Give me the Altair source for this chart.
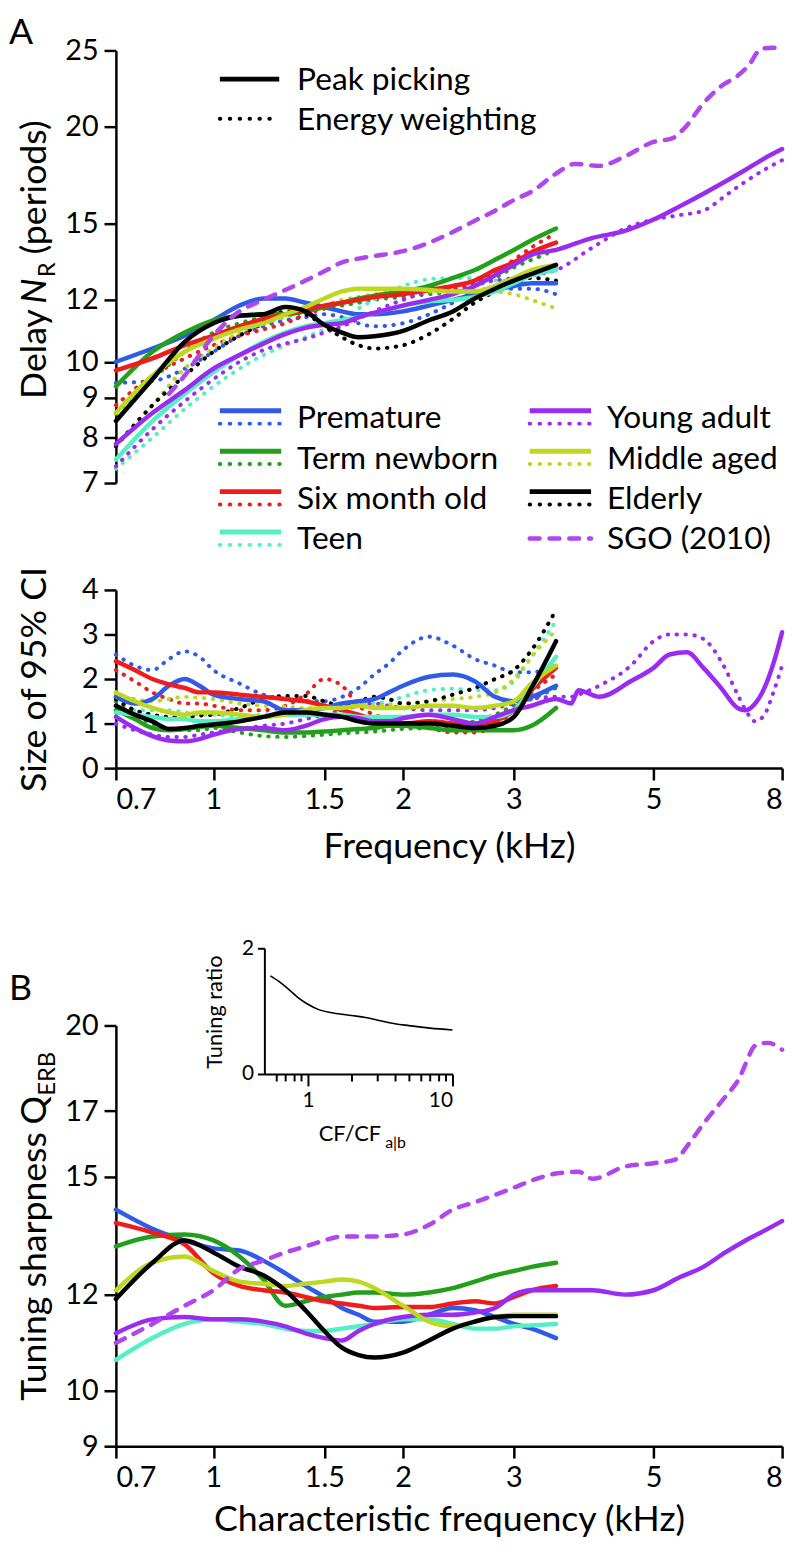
import altair as alt
import pandas as pd

FONT = "Lato"
GROUPS = ["Premature", "Term newborn", "Six month old", "Teen",
          "Young adult", "Middle aged", "Elderly", "SGO (2010)"]
COLORS = ["#2f5be8", "#22a01c", "#f01c1c", "#55efc4",
          "#9a2cf2", "#bdd81e", "#000000", "#b046ee"]
METHOD_LABELS = ["Peak picking", "Energy weighting"]

# ---------------- frequencies (kHz) ----------------
FREQ = [0.7, 0.8, 0.9, 1.0, 1.1, 1.2, 1.3, 1.4, 1.5, 1.6, 1.7, 1.8, 2.0, 2.2, 2.4, 2.6, 2.8, 3.0, 3.2, 3.5]
FREQ_HI = [4.0, 4.5, 5.0, 5.5, 6.0, 6.5, 7.0, 7.5, 8.0]

# ---------------- Delay N_R, peak picking ----------------
PREM_D_PK = [10.0, 10.4, 10.8, 11.3, 11.8, 12.05, 12.05, 11.9, 11.75, 11.6, 11.5, 11.5, 11.6, 11.8, 12.0, 12.2, 12.35, 12.5, 12.6, 12.6]
TERM_D_PK = [9.3, 10.3, 10.9, 11.3, 11.45, 11.5, 11.5, 11.6, 11.75, 11.9, 12.05, 12.15, 12.3, 12.5, 12.8, 13.1, 13.5, 13.9, 14.3, 14.8]
SIX_D_PK = [9.75, 10.1, 10.5, 10.8, 11.1, 11.35, 11.5, 11.65, 11.8, 11.9, 12.0, 12.1, 12.2, 12.35, 12.5, 12.7, 13.1, 13.4, 13.8, 14.2]
TEEN_D_PK = [7.5, 8.4, 9.1, 9.7, 10.2, 10.6, 10.9, 11.1, 11.2, 11.3, 11.4, 11.55, 11.8, 11.95, 12.0, 12.1, 12.3, 12.6, 12.9, 13.1]
YA_D_PK = [7.85, 8.6, 9.2, 9.8, 10.2, 10.55, 10.85, 11.05, 11.15, 11.2, 11.4, 11.55, 11.8, 12.0, 12.2, 12.5, 12.9, 13.3, 13.7, 13.9]
YA_D_PK_HI = [14.4, 14.7, 15.2, 15.8, 16.4, 17.0, 17.6, 18.2, 18.7]
MID_D_PK = [8.6, 9.6, 10.3, 10.7, 11.0, 11.2, 11.5, 11.75, 12.05, 12.3, 12.4, 12.4, 12.4, 12.35, 12.3, 12.3, 12.5, 12.8, 13.1, 13.3]
ELD_D_PK = [8.4, 9.5, 10.6, 11.2, 11.45, 11.5, 11.75, 11.6, 11.15, 10.9, 10.75, 10.78, 10.95, 11.3, 11.6, 12.05, 12.4, 12.7, 12.95, 13.3]

# ---------------- Delay N_R, energy weighting ----------------
PREM_D_EW = [9.4, 9.45, 9.8, 10.3, 10.8, 11.1, 11.3, 11.4, 11.5, 11.4, 11.2, 11.1, 11.2, 11.5, 11.9, 12.3, 12.4, 12.4, 12.4, 12.2]
TERM_D_EW = [8.6, 9.5, 10.3, 10.9, 11.2, 11.4, 11.5, 11.6, 11.7, 11.8, 11.9, 12.0, 12.1, 12.2, 12.3, 12.5, 12.8, 13.2, 13.5, 13.9]
SIX_D_EW = [8.8, 9.6, 10.1, 10.5, 10.8, 11.0, 11.2, 11.5, 11.7, 11.9, 12.0, 12.1, 12.2, 12.3, 12.4, 12.6, 13.0, 13.5, 14.0, 14.6]
TEEN_D_EW = [7.3, 8.0, 8.7, 9.3, 9.8, 10.2, 10.5, 10.75, 11.0, 11.3, 11.7, 12.0, 12.5, 12.75, 12.8, 12.8, 12.7, 12.7, 12.9, 13.2]
YA_D_EW = [7.35, 8.2, 8.9, 9.5, 10.0, 10.35, 10.55, 10.7, 10.9, 11.1, 11.35, 11.6, 12.0, 12.3, 12.5, 12.6, 12.7, 12.8, 12.9, 13.1]
YA_D_EW_HI = [14.0, 14.8, 15.2, 15.4, 15.6, 16.3, 17.0, 17.6, 18.1]
MID_D_EW = [7.8, 8.8, 9.8, 10.4, 10.9, 11.2, 11.4, 11.6, 11.8, 12.0, 12.1, 12.2, 12.3, 12.3, 12.3, 12.35, 12.3, 12.2, 12.0, 11.7]
ELD_D_EW = [7.8, 8.8, 9.6, 10.3, 10.8, 11.2, 11.6, 11.5, 11.1, 10.75, 10.5, 10.4, 10.5, 10.85, 11.35, 11.9, 12.3, 12.6, 12.8, 12.7]

# SGO (2010) delay
SGO_D_FREQ = [0.85, 0.9, 1.0, 1.1, 1.2, 1.3, 1.4, 1.5, 1.6, 1.7, 1.8, 2.0, 2.2, 2.4, 2.6, 2.8, 3.0, 3.2, 3.5, 3.75, 4.1, 4.5, 5.0, 5.35, 5.6, 6.0, 6.4, 6.8, 7.1, 7.4, 7.7, 8.0]
SGO_D = [9.1, 9.6, 10.8, 11.6, 12.0, 12.35, 12.7, 13.05, 13.4, 13.55, 13.65, 13.85, 14.2, 14.65, 15.15, 15.6, 16.1, 16.5, 17.4, 17.9, 17.8, 18.3, 19.1, 19.3, 19.9, 21.4, 22.5, 23.2, 24.0, 25.1, 25.2, 25.2]

# ---------------- Size of 95% CI ----------------
FREQ_CI = [0.7, 0.75, 0.8, 0.85, 0.9, 0.95, 1.0, 1.1, 1.2, 1.3, 1.4, 1.5, 1.6, 1.7, 1.8, 1.9, 2.0, 2.2, 2.4, 2.6, 2.8, 3.0, 3.2, 3.5]
FREQ_CI_HI = [3.7, 3.8, 4.1, 4.6, 5.0, 5.3, 5.65, 6.0, 6.4, 6.8, 7.0, 7.25, 7.5, 7.75, 8.0]
PREM_CI_PK = [1.6, 1.45, 1.55, 1.85, 2.0, 1.85, 1.65, 1.55, 1.5, 1.3, 1.3, 1.35, 1.45, 1.5, 1.55, 1.7, 1.85, 2.05, 2.1, 1.95, 1.6, 1.5, 1.6, 1.85]
PREM_CI_EW = [2.55, 2.3, 2.2, 2.45, 2.62, 2.5, 2.2, 1.9, 1.65, 1.55, 1.5, 1.5, 1.6, 1.8, 2.1, 2.35, 2.65, 2.95, 2.75, 2.45, 2.3, 2.15, 2.15, 2.3]
TERM_CI_PK = [1.3, 1.1, 0.9, 0.85, 0.88, 0.92, 0.95, 0.9, 0.85, 0.8, 0.8, 0.82, 0.85, 0.88, 0.9, 0.95, 0.95, 0.9, 0.85, 0.85, 0.85, 0.85, 0.95, 1.35]
TERM_CI_EW = [1.5, 1.2, 1.0, 0.9, 0.85, 0.85, 0.9, 0.8, 0.72, 0.7, 0.72, 0.75, 0.78, 0.8, 0.82, 0.85, 0.88, 0.9, 0.95, 1.05, 1.2, 1.4, 1.55, 1.8]
SIX_CI_PK = [2.4, 2.2, 2.0, 1.88, 1.8, 1.7, 1.7, 1.65, 1.6, 1.55, 1.5, 1.4, 1.3, 1.2, 1.1, 1.05, 1.0, 1.05, 1.0, 0.95, 1.05, 1.3, 1.75, 2.25]
SIX_CI_EW = [2.2, 1.95, 1.7, 1.55, 1.45, 1.45, 1.4, 1.3, 1.3, 1.4, 1.65, 2.0, 1.85, 1.4, 1.2, 1.1, 1.0, 0.9, 0.8, 0.8, 0.95, 1.3, 1.7, 2.1]
TEEN_CI_PK = [1.25, 1.2, 1.15, 1.1, 1.1, 1.05, 1.05, 1.1, 1.15, 1.2, 1.2, 1.2, 1.2, 1.15, 1.15, 1.15, 1.15, 1.2, 1.2, 1.15, 1.15, 1.3, 1.8, 2.5]
TEEN_CI_EW = [1.3, 1.3, 1.3, 1.3, 1.25, 1.2, 1.2, 1.15, 1.2, 1.25, 1.3, 1.35, 1.4, 1.45, 1.45, 1.5, 1.6, 1.75, 1.78, 1.75, 1.75, 1.95, 2.5, 3.3]
YA_CI_PK = [1.15, 0.9, 0.72, 0.62, 0.6, 0.65, 0.75, 0.88, 0.9, 0.85, 0.95, 1.1, 1.15, 1.12, 1.05, 1.05, 1.12, 1.2, 1.1, 1.0, 1.15, 1.3, 1.4, 1.55]
YA_CI_PK_HI = [1.45, 1.75, 1.6, 1.95, 2.25, 2.55, 2.6, 2.25, 1.8, 1.35, 1.3, 1.45, 1.8, 2.35, 3.05]
YA_CI_EW = [1.0, 0.85, 0.75, 0.7, 0.7, 0.75, 0.8, 0.88, 0.95, 1.0, 1.1, 1.2, 1.3, 1.4, 1.45, 1.4, 1.35, 1.3, 1.3, 1.3, 1.35, 1.45, 1.55, 1.6]
YA_CI_EW_HI = [1.6, 1.65, 1.85, 2.3, 2.85, 3.0, 3.0, 2.9, 2.4, 1.65, 1.3, 1.05, 1.2, 1.7, 2.3]
MID_CI_PK = [1.7, 1.5, 1.35, 1.25, 1.2, 1.25, 1.25, 1.2, 1.15, 1.2, 1.3, 1.35, 1.35, 1.4, 1.35, 1.35, 1.35, 1.4, 1.4, 1.35, 1.4, 1.5, 1.9, 2.3]
MID_CI_EW = [1.65, 1.55, 1.5, 1.55, 1.6, 1.58, 1.55, 1.45, 1.4, 1.38, 1.35, 1.35, 1.35, 1.38, 1.4, 1.42, 1.45, 1.5, 1.55, 1.6, 1.7, 2.0, 2.5, 3.1]
ELD_CI_PK = [1.4, 1.2, 1.05, 0.88, 0.9, 0.95, 0.98, 1.05, 1.15, 1.25, 1.25, 1.2, 1.15, 1.05, 1.0, 1.0, 1.0, 1.0, 0.95, 0.9, 0.95, 1.15, 1.8, 2.85]
ELD_CI_EW = [1.55, 1.3, 1.2, 1.15, 1.15, 1.18, 1.2, 1.35, 1.55, 1.62, 1.62, 1.5, 1.4, 1.5, 1.6, 1.55, 1.45, 1.5, 1.65, 1.8, 2.0, 2.2, 2.65, 3.55]

# ---------------- Tuning sharpness Q_ERB ----------------
PREM_Q = [14.1, 13.6, 13.3, 13.1, 13.05, 12.8, 12.5, 12.2, 11.95, 11.7, 11.55, 11.4, 11.4, 11.55, 11.7, 11.65, 11.5, 11.35, 11.25, 11.05]
TERM_Q = [13.15, 13.4, 13.45, 13.3, 12.9, 12.35, 11.75, 11.85, 11.95, 12.0, 12.05, 12.05, 12.0, 12.05, 12.15, 12.3, 12.45, 12.55, 12.65, 12.75]
SIX_Q = [13.75, 13.5, 13.2, 12.5, 12.2, 12.1, 12.05, 11.95, 11.85, 11.8, 11.75, 11.7, 11.72, 11.72, 11.8, 11.85, 11.8, 11.95, 12.1, 12.2]
TEEN_Q = [10.6, 11.05, 11.35, 11.45, 11.4, 11.35, 11.25, 11.2, 11.2, 11.25, 11.3, 11.35, 11.45, 11.45, 11.35, 11.25, 11.25, 11.3, 11.32, 11.35]
YA_Q = [11.15, 11.45, 11.5, 11.45, 11.45, 11.4, 11.3, 11.15, 11.05, 11.0, 11.2, 11.35, 11.5, 11.55, 11.55, 11.6, 11.7, 12.0, 12.1, 12.1]
YA_Q_HI = [12.1, 12.0, 12.1, 12.4, 12.65, 13.0, 13.3, 13.55, 13.8]
MID_Q = [12.1, 12.75, 12.9, 12.55, 12.3, 12.25, 12.2, 12.25, 12.3, 12.35, 12.3, 12.15, 11.75, 11.4, 11.3, 11.4, 11.5, 11.55, 11.55, 11.55]
ELD_Q = [11.9, 12.75, 13.3, 13.0, 12.65, 12.45, 12.1, 11.65, 11.2, 10.85, 10.7, 10.65, 10.75, 11.0, 11.25, 11.4, 11.5, 11.52, 11.52, 11.52]
SGO_Q_FREQ = [0.7, 0.8, 0.9, 1.0, 1.1, 1.2, 1.3, 1.4, 1.5, 1.6, 1.7, 1.8, 2.0, 2.2, 2.4, 2.6, 2.8, 3.0, 3.2, 3.5, 3.8, 4.0, 4.5, 5.0, 5.4, 5.7, 6.0, 6.4, 6.8, 7.3, 7.6, 8.0]
SGO_Q = [10.95, 11.35, 11.75, 12.1, 12.6, 12.8, 13.0, 13.15, 13.3, 13.4, 13.4, 13.4, 13.45, 13.7, 14.1, 14.3, 14.5, 14.7, 14.9, 15.1, 15.15, 14.95, 15.3, 15.4, 15.5, 16.0, 16.6, 17.3, 18.0, 19.3, 19.35, 19.1]

# ---------------- Inset: tuning ratio ----------------
INSET_CF = [0.55, 0.65, 0.75, 0.85, 1.0, 1.2, 1.5, 2.0, 2.5, 3.0, 4.0, 5.0, 7.0, 10.0]
INSET_RATIO = [1.56, 1.45, 1.33, 1.22, 1.11, 1.02, 0.97, 0.93, 0.9, 0.86, 0.8, 0.77, 0.73, 0.7]


def add(rows, group, method, freqs, vals):
    assert len(freqs) == len(vals), (group, method)
    for f, v in zip(freqs, vals):
        rows.append({"group": group, "method": method, "f": f, "v": v})


d_rows, c_rows, q_rows = [], [], []
for g, pk, ew in [("Premature", PREM_D_PK, PREM_D_EW), ("Term newborn", TERM_D_PK, TERM_D_EW),
                  ("Six month old", SIX_D_PK, SIX_D_EW), ("Teen", TEEN_D_PK, TEEN_D_EW),
                  ("Young adult", YA_D_PK + YA_D_PK_HI, YA_D_EW + YA_D_EW_HI),
                  ("Middle aged", MID_D_PK, MID_D_EW), ("Elderly", ELD_D_PK, ELD_D_EW)]:
    fr = FREQ + FREQ_HI if g == "Young adult" else FREQ
    add(d_rows, g, "peak", fr, pk)
    add(d_rows, g, "energy", fr, ew)
add(d_rows, "SGO (2010)", "sgo", SGO_D_FREQ, SGO_D)

for g, pk, ew in [("Premature", PREM_CI_PK, PREM_CI_EW), ("Term newborn", TERM_CI_PK, TERM_CI_EW),
                  ("Six month old", SIX_CI_PK, SIX_CI_EW), ("Teen", TEEN_CI_PK, TEEN_CI_EW),
                  ("Young adult", YA_CI_PK + YA_CI_PK_HI, YA_CI_EW + YA_CI_EW_HI),
                  ("Middle aged", MID_CI_PK, MID_CI_EW), ("Elderly", ELD_CI_PK, ELD_CI_EW)]:
    fr = FREQ_CI + FREQ_CI_HI if g == "Young adult" else FREQ_CI
    add(c_rows, g, "peak", fr, pk)
    add(c_rows, g, "energy", fr, ew)

for g, q in [("Premature", PREM_Q), ("Term newborn", TERM_Q), ("Six month old", SIX_Q),
             ("Teen", TEEN_Q), ("Young adult", YA_Q + YA_Q_HI), ("Middle aged", MID_Q),
             ("Elderly", ELD_Q)]:
    fr = FREQ + FREQ_HI if g == "Young adult" else FREQ
    add(q_rows, g, "peak", fr, q)
add(q_rows, "SGO (2010)", "sgo", SGO_Q_FREQ, SGO_Q)

delay_df = pd.DataFrame(d_rows)
ci_df = pd.DataFrame(c_rows)
q_df = pd.DataFrame(q_rows)
inset_df = pd.DataFrame({"cf": INSET_CF, "ratio": INSET_RATIO})

# ---------------- layout (plot-area pixels) ----------------
W, H = 673, 1410
A_RANGE = [437, 0]
CI_RANGE = [725, 545]
B_RANGE = [1410, 985]
TITLE_SIZE = 36
TITLE_X = -71
LEG_SIZE = 32

AX = dict(domainColor="black", domainWidth=2.5, tickColor="black", tickWidth=2.5,
          tickSize=12, labelFont=FONT, labelFontSize=29, labelColor="black",
          grid=False, labelPadding=6, titleFont=FONT, titleFontWeight="normal",
          titleColor="black")

COLOR = alt.Color("group:N", scale=alt.Scale(domain=GROUPS, range=COLORS), legend=None)


def xscale():
    return alt.Scale(type="log", domain=[0.7, 8], range=[0, W], nice=False)


STYLE = {
    "energy": dict(strokeWidth=4, strokeDash=[0.5, 8.5], strokeCap="round"),
    "peak": dict(strokeWidth=4.5, strokeCap="round"),
    "sgo": dict(strokeWidth=4.5, strokeDash=[10, 10], strokeCap="round"),
}


def lines(df, x, y, methods):
    out = []
    for m in methods:
        sub = df[df["method"] == m]
        out.append(alt.Chart(sub).mark_line(interpolate="monotone", **STYLE[m]).encode(
            x=x, y=y, color=COLOR, detail="group:N"))
    return alt.layer(*out)


# Panel A: delay
xA = alt.X("f:Q", scale=xscale(), axis=None)
yA = alt.Y("v:Q", scale=alt.Scale(type="log", domain=[7, 25], range=A_RANGE, nice=False),
           axis=alt.Axis(orient="left", values=[7, 8, 9, 10, 12, 15, 20, 25], format="d",
                         title=None, **AX))
panelA = lines(delay_df, xA, yA, ["energy", "peak", "sgo"])

# Panel A: CI
xC = alt.X("f:Q", scale=xscale(),
           axis=alt.Axis(orient="bottom", offset=-(H - CI_RANGE[0]), values=[0.7, 1, 1.5, 2, 3, 5, 8],
                         format="~g", title="Frequency (kHz)", titleX=W / 2, titleY=90,
                         titleAlign="center", titleBaseline="alphabetic", titleFontSize=TITLE_SIZE, **AX))
yC = alt.Y("v:Q", scale=alt.Scale(domain=[0, 4], range=CI_RANGE, nice=False, zero=False),
           axis=alt.Axis(orient="left", values=[0, 1, 2, 3, 4], format="d",
                         title="Size of 95% CI", titleX=TITLE_X, titleY=(CI_RANGE[0] + CI_RANGE[1]) / 2,
                         titleAngle=270, titleAlign="center", titleBaseline="alphabetic",
                         titleFontSize=TITLE_SIZE, **AX))
panelC = lines(ci_df, xC, yC, ["energy", "peak"])

# Panel B: tuning sharpness
xB = alt.X("f:Q", scale=xscale(),
           axis=alt.Axis(orient="bottom", values=[0.7, 1, 1.5, 2, 3, 5, 8], format="~g",
                         title="Characteristic frequency (kHz)", titleX=W / 2, titleY=85,
                         titleAlign="center", titleBaseline="alphabetic", titleFontSize=TITLE_SIZE, **AX))
yB = alt.Y("v:Q", scale=alt.Scale(type="log", domain=[9, 20], range=B_RANGE, nice=False),
           axis=alt.Axis(orient="left", values=[9, 10, 12, 15, 17, 20], format="d", title=None, **AX))
panelB = lines(q_df, xB, yB, ["peak", "sgo"])

# Inset
AXI = dict(AX)
AXI.update(domainWidth=2, tickWidth=2, labelFontSize=21, labelPadding=4)
AXI.pop("tickSize")
xI = alt.X("cf:Q", scale=alt.Scale(type="log", domain=[0.5, 10], range=[150, 340], nice=False),
           axis=alt.Axis(orient="bottom", offset=-(H - 1034),
                         values=[0.6, 0.7, 0.8, 0.9, 1, 2, 3, 4, 5, 6, 7, 8, 9, 10],
                         labelExpr="(datum.value == 1 || datum.value == 10) ? datum.label : ''",
                         tickSize={"condition": {"test": "datum.value == 1 || datum.value == 10", "value": 12},
                                   "value": 7},
                         format="~g", title=None, **AXI))
yI = alt.Y("ratio:Q", scale=alt.Scale(domain=[0, 2], range=[1034, 907], nice=False, zero=False),
           axis=alt.Axis(orient="left", offset=-150, values=[0, 1, 2], format="d", tickSize=7,
                         title="Tuning ratio", titleX=-43, titleY=971, titleAngle=270,
                         titleAlign="center", titleBaseline="alphabetic", titleFontSize=22, **AXI))
inset = alt.Chart(inset_df).mark_line(color="black", strokeWidth=1.6, interpolate="monotone").encode(
    x=xI, y=yI)

# Legend: methods
meth_df = pd.DataFrame({"label": METHOD_LABELS, "row": list(range(len(METHOD_LABELS))),
                        "method": ["peak", "energy"]})
yM = alt.Y("row:Q", scale=alt.Scale(domain=[0, 1], range=[29, 69]), axis=None)
legM = alt.layer(
    alt.Chart(meth_df[meth_df.method == "peak"]).mark_rule(color="black", strokeWidth=5).encode(
        x=alt.value(105), x2=alt.value(165), y=yM),
    alt.Chart(meth_df[meth_df.method == "energy"]).mark_rule(
        color="black", strokeWidth=4, strokeDash=[0.5, 9.5], strokeCap="round").encode(
        x=alt.value(105), x2=alt.value(165), y=yM),
    alt.Chart(meth_df).mark_text(align="left", baseline="alphabetic", dy=11, font=FONT,
                                 fontSize=LEG_SIZE, color="black").encode(
        x=alt.value(183), y=yM, text="label:N"),
)

# Legend: groups (two columns of four)
leg_df = pd.DataFrame({"group": GROUPS})
leg_df["col"] = [i // 4 for i in range(len(GROUPS))]
leg_df["row"] = [i % 4 for i in range(len(GROUPS))]
LEG_LINE = 62 / 313
LEG_TEXT = 78 / 313
leg_df["lx1"] = leg_df["col"] + LEG_LINE
leg_df["tx"] = leg_df["col"] + LEG_TEXT
xL = alt.X("col:Q", scale=alt.Scale(domain=[0, 1], range=[105, 418]), axis=None)
yL = alt.Y("row:Q", scale=alt.Scale(domain=[0, 3], range=[370.5, 493]), axis=None)
pairs = leg_df[leg_df.group != "SGO (2010)"]
sgo_leg = leg_df[leg_df.group == "SGO (2010)"]
legC = alt.layer(
    alt.Chart(pairs).mark_rule(strokeWidth=5, yOffset=-6.5).encode(
        x=xL, x2="lx1:Q", y=yL, color=COLOR),
    alt.Chart(pairs).mark_rule(strokeWidth=4, strokeDash=[0.5, 9.5], strokeCap="round", yOffset=6.5).encode(
        x=xL, x2="lx1:Q", y=yL, color=COLOR),
    alt.Chart(sgo_leg).mark_rule(strokeWidth=4.5, strokeDash=[10, 10], strokeCap="round").encode(
        x=xL, x2="lx1:Q", y=yL, color=COLOR),
    alt.Chart(leg_df).mark_text(align="left", baseline="alphabetic", dy=11, font=FONT,
                                fontSize=LEG_SIZE, color="black").encode(
        x=alt.X("tx:Q", scale=alt.Scale(domain=[0, 1], range=[105, 418]), axis=None),
        y=yL, text="group:N"),
)


def label(text, x, y, size=TITLE_SIZE, angle=0, style="normal", align="left"):
    return alt.Chart(pd.DataFrame({"t": [text]})).mark_text(
        align=align, baseline="alphabetic", font=FONT, fontSize=size, angle=angle,
        fontStyle=style, color="black").encode(x=alt.value(x), y=alt.value(y), text="t:N")


SUB_X = TITLE_X + 9
texts = [
    label("A", -108, -7, size=36),
    label("B", -108, 959, size=36),
    # Delay N_R (periods)
    label("Delay", TITLE_X, 352, angle=270),
    label("N", TITLE_X, 256, angle=270, style="italic"),
    label("R", SUB_X, 229, size=24, angle=270),
    label("(periods)", TITLE_X, 206, angle=270),
    # Tuning sharpness Q_ERB
    label("Tuning sharpness", TITLE_X, 1364, angle=270),
    label("Q", TITLE_X, 1085, angle=270),
    label("ERB", SUB_X, 1056, size=24, angle=270),
    # inset x title CF/CF_a|b
    label("CF/CF", 205, 1102, size=22),
    label("a|b", 272, 1109, size=16),
]

chart = alt.layer(panelA, panelC, panelB, inset, legM, legC, *texts).resolve_scale(
    x="independent", y="independent"
).properties(
    width=W, height=H,
    autosize=alt.AutoSizeParams(type="none"),
    padding={"left": 109, "top": 35, "right": 10, "bottom": 98},
    background="white",
).configure_view(stroke=None)

chart.save("out.html", embed_options={"renderer": "svg", "actions": False})
